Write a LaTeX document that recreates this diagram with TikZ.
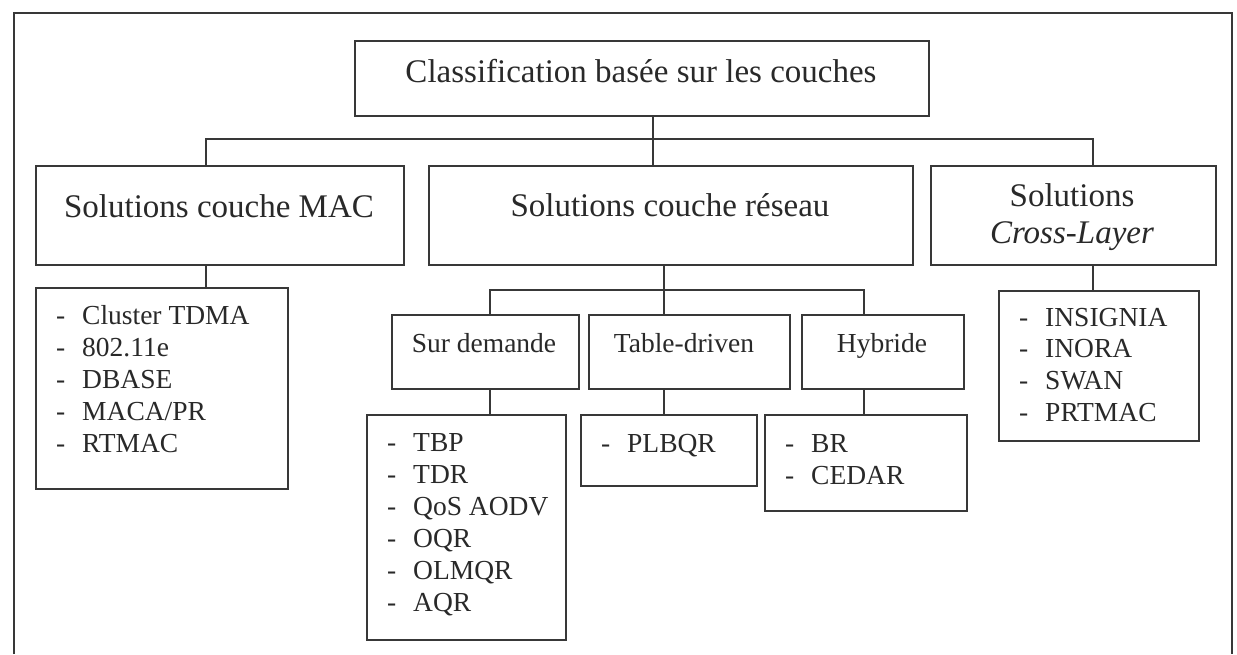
\documentclass[tikz,border=0pt]{standalone}
\usepackage{fontspec}
\setmainfont{Liberation Serif}
\definecolor{linegray}{rgb}{0.22,0.22,0.22}
\definecolor{textgray}{rgb}{0.16,0.16,0.16}

% rectangle given by its top-left and bottom-right corners
\newcommand\cadre[5]{%
  \node[box, minimum width={#4-#2}, minimum height={#5-#3}] (#1) at (#2,#3) {};}
% bulleted list: name, left edge of its box, first baseline, spacing, items
\newcommand\liste[5]{%
  \foreach \t [count=\k from 0] in {#5}{%
    \node[small, anchor=base west] (#1-d\k) at ({#2+21}, {#3+#4*\k}) {-};
    \node[small, anchor=base west] (#1-\k) at ({#2+47}, {#3+#4*\k}) {\t};
  }}

\begin{document}
\begin{tikzpicture}[x=1pt, y=-1pt,
  ink/.style={draw=linegray, line width=1.6pt},
  box/.style={ink, rectangle, inner sep=0pt, anchor=north west},
  big/.style={font=\fontsize{33}{37}\selectfont, text=textgray, inner sep=0pt},
  small/.style={font=\fontsize{27.5}{32}\selectfont, text=textgray, inner sep=0pt},
]
\useasboundingbox (0,0) rectangle (1237,654);
\fill[white] (0,0) rectangle (1237,654);

% outer frame
\draw[ink, line width=1.4pt] (14,654) -- (14,13) -- (1232,13) -- (1232,654);

% boxes
\cadre{top}{354}{40}{928}{115}
\cadre{mac}{35}{165}{403}{264}
\cadre{res}{428}{165}{912}{264}
\cadre{cross}{930}{165}{1215}{264}
\cadre{maclist}{35}{287}{287}{488}
\cadre{sd}{391}{314}{578}{388}
\cadre{td}{588}{314}{789}{388}
\cadre{hy}{801}{314}{963}{388}
\cadre{sdlist}{366}{414}{565}{639}
\cadre{tdlist}{580}{414}{756}{485}
\cadre{hylist}{764}{414}{966}{510}
\cadre{crosslist}{998}{290}{1198}{440}

% headings
\node[big, anchor=base] (ttop) at (641,82) {Classification basée sur les couches};
\node[big, anchor=base] (tmac) at (219,217) {Solutions couche MAC};
\node[big, anchor=base] (tres) at (670,216) {Solutions couche réseau};
\node[big, anchor=base] (tcross1) at (1072,206) {Solutions};
\node[big, anchor=base] (tcross2) at (1072,243) {\itshape Cross-Layer};
\node[small, anchor=base] (tsd) at (484,352) {Sur demande};
\node[small, anchor=base] (ttd) at (684,352) {Table-driven};
\node[small, anchor=base] (thy) at (882,352) {Hybride};

% lists
\liste{lmac}{35}{324}{32}{Cluster TDMA, 802.11e, DBASE, MACA/PR, RTMAC}
\liste{lsd}{366}{451}{32}{TBP, TDR, QoS AODV, OQR, OLMQR, AQR}
\liste{ltd}{580}{452}{32}{PLBQR}
\liste{lhy}{764}{452}{32}{BR, CEDAR}
\liste{lcross}{998}{326}{31.7}{INSIGNIA, INORA, SWAN, PRTMAC}

% connector junctions
\coordinate (j1) at (653,139);
\coordinate (xmac) at (206,0);
\coordinate (xcross) at (1093,0);
\coordinate (j2) at (664,290);
\coordinate (xsd) at (490,0);
\coordinate (xhy) at (864,0);

% connectors
\draw[ink] (top.south -| j1) -- (res.north -| j1);
\draw[ink] (mac.north -| xmac) |- (j1) -| (cross.north -| xcross);
\draw[ink] (mac.south -| xmac) -- (maclist.north -| xmac);
\draw[ink] (cross.south -| xcross) -- (crosslist.north -| xcross);
\draw[ink] (res.south -| j2) -- (td.north -| j2);
\draw[ink] (sd.north -| xsd) |- (j2) -| (hy.north -| xhy);
\draw[ink] (sd.south -| xsd) -- (sdlist.north -| xsd);
\draw[ink] (td.south -| j2) -- (tdlist.north -| j2);
\draw[ink] (hy.south -| xhy) -- (hylist.north -| xhy);
\end{tikzpicture}
\end{document}
